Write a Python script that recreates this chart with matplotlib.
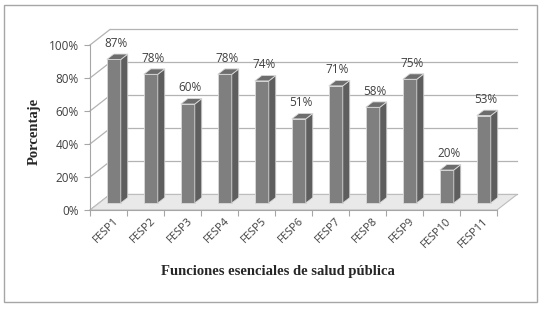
import numpy as np
import matplotlib
matplotlib.use('Agg')
import matplotlib.pyplot as plt
from matplotlib.patches import Polygon, Rectangle

# datos
categorias = ['FESP1', 'FESP2', 'FESP3', 'FESP4', 'FESP5', 'FESP6',
              'FESP7', 'FESP8', 'FESP9', 'FESP10', 'FESP11']
porcentajes = [87, 78, 60, 78, 74, 51, 71, 58, 75, 20, 53]
yticks = [0, 20, 40, 60, 80, 100]
ytick_labels = ['0%', '20%', '40%', '60%', '80%', '100%']

fig = plt.figure(figsize=(5.45, 3.10), dpi=100)
fig.patch.set_facecolor('white')

# marco exterior
fig.patches.append(Rectangle((4 / 545, 1 - 302 / 310), 533 / 545, 297 / 310,
                             transform=fig.transFigure, fill=False,
                             edgecolor='#a6a6a6', linewidth=1.0))

ax = fig.add_axes([90 / 545, 1 - 210 / 310, 407 / 545, 165 / 310])
ax.set_xlim(-0.5, 10.5)
ax.set_ylim(0, 100)
ax.set_facecolor('none')

# profundidad del efecto 3D (en unidades de datos)
DX, DY = 0.54, 9.4
f0, f1 = 0.45, 0.80
n = len(categorias)
x0, x1 = -0.5, n - 0.5

# suelo
ax.add_patch(Polygon([(x0, 0), (x1, 0), (x1 + DX, DY), (x0 + DX, DY)],
                     closed=True, facecolor='#e9e9e9', edgecolor='#bdbdbd',
                     linewidth=0.8, clip_on=False, zorder=1))

# lineas de cuadricula en la pared del fondo y diagonales de la pared izquierda
for t in yticks:
    ax.plot([x0 + DX, x1 + DX], [t + DY, t + DY], color='#b3b3b3',
            linewidth=0.9, clip_on=False, zorder=0)
    ax.plot([x0, x0 + DX], [t, t + DY], color='#b3b3b3', linewidth=0.9,
            clip_on=False, zorder=0)

# barras 3D
w = 0.378
dd = f1 - f0
xs = np.arange(n) + f0 * DX - 0.1
base = f0 * DY
ax.bar(xs, porcentajes, width=w, bottom=base, color='#7f7f7f',
       edgecolor='#d9d9d9', linewidth=0.6, zorder=3, clip_on=False)
for x, v in zip(xs, porcentajes):
    xl, xr = x - w / 2, x + w / 2
    top = base + v
    ax.add_patch(Polygon([(xr, base), (xr + dd * DX, base + dd * DY),
                          (xr + dd * DX, top + dd * DY), (xr, top)],
                         closed=True, facecolor='#5e5e5e', edgecolor='#d9d9d9',
                         linewidth=0.6, zorder=3, clip_on=False))
    ax.add_patch(Polygon([(xl, top), (xr, top), (xr + dd * DX, top + dd * DY),
                          (xl + dd * DX, top + dd * DY)],
                         closed=True, facecolor='#6d6d6d', edgecolor='#d9d9d9',
                         linewidth=0.6, zorder=3, clip_on=False))
    ax.text(x + 0.05, top + dd * DY + 2.5, '%d%%' % v, ha='center', va='bottom',
            fontsize=8.5, family='Open Sans', color='#404040', zorder=4)

# ejes
for s in ['top', 'right']:
    ax.spines[s].set_visible(False)
ax.spines['left'].set_color('#a6a6a6')
ax.spines['bottom'].set_color('#a6a6a6')
ax.spines['left'].set_zorder(2)
ax.set_yticks(yticks)
ax.set_yticklabels(ytick_labels, fontsize=8.5, family='Open Sans', color='#404040')
ax.set_xticks(np.arange(-0.5, n, 1.0))
ax.set_xticklabels([])
ax.tick_params(axis='both', direction='out', length=4, color='#a6a6a6', pad=4)

for i, c in enumerate(categorias):
    ax.text(i + 0.12, -3.5, c, rotation=45, rotation_mode='anchor', ha='right',
            va='top', fontsize=8, family='Open Sans', color='#404040')

fig.text(34 / 545, 1 - 131.5 / 310, 'Porcentaje', rotation=90, ha='center',
         va='center', fontsize=10.5, fontweight='bold', family='Liberation Serif',
         color='#262626')
fig.text(278 / 545, 1 - 272 / 310, 'Funciones esenciales de salud pública',
         ha='center', va='center', fontsize=10.5, fontweight='bold',
         family='Liberation Serif', color='#262626')

fig.savefig('out.png', dpi=100, facecolor='white')
